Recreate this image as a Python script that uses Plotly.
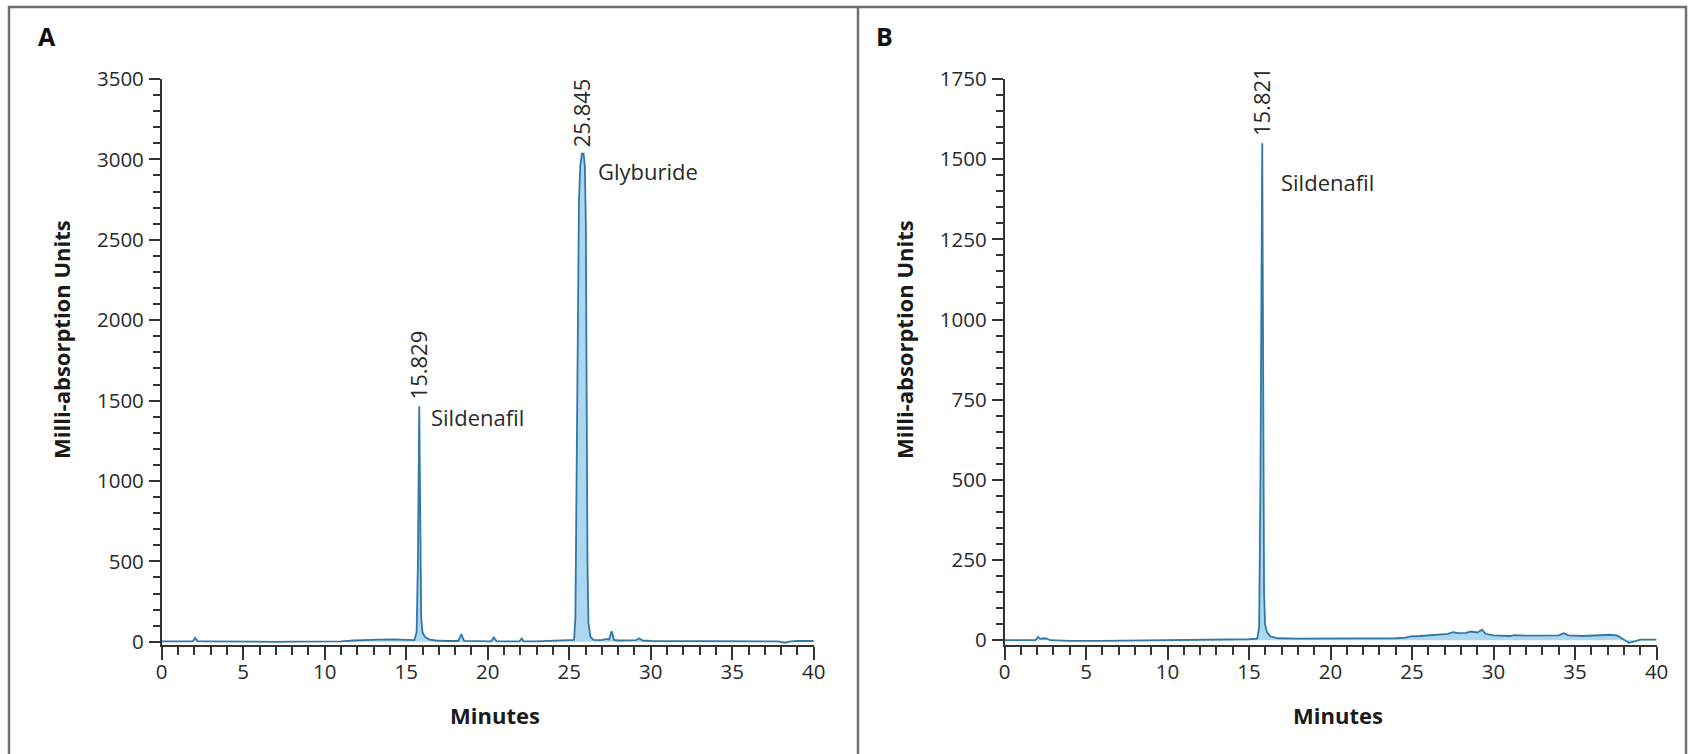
import plotly.graph_objects as go

# ---------------- Data ----------------
# Panel A: sample with sildenafil and glyburide
time_a = [0.0, 0.6, 1.2, 1.9, 2.05, 2.2, 2.6, 3.2, 4.0, 5.0, 6.0, 7.0, 8.0, 9.0,
          10.0, 11.0, 11.8, 12.5, 13.3, 14.2, 15.0, 15.5, 15.64, 15.72, 15.8,
          15.86, 15.92, 16.0, 16.15, 16.4, 16.8, 17.5, 18.2, 18.38, 18.55, 19.3,
          20.2, 20.38, 20.55, 21.3, 21.95, 22.08, 22.22, 23.0, 24.0, 24.8, 25.3,
          25.38, 25.45, 25.52, 25.6, 25.68, 25.78, 25.88, 25.96, 26.02, 26.07,
          26.12, 26.18, 26.3, 26.5, 27.0, 27.3, 27.45, 27.6, 27.75, 28.0, 28.6,
          29.1, 29.3, 29.5, 30.0, 31.0, 32.0, 33.0, 34.0, 35.0, 36.0, 37.0, 37.8,
          38.2, 38.6, 39.0, 40.0]
mau_a = [2, 3, 2, 2, 25, 4, 3, 2, 1, 1, 0, 0, 1, 1,
         2, 3, 8, 12, 14, 15, 12, 10, 60, 500, 1465,
         700, 150, 60, 30, 15, 8, 5, 5, 48, 6, 4,
         3, 27, 3, 3, 2, 20, 3, 3, 5, 8, 12,
         150, 900, 2100, 2750, 2960, 3035, 3035, 2960, 2600, 1500,
         500, 120, 30, 12, 10, 18, 14, 65, 12, 8, 8,
         10, 22, 8, 5, 5, 5, 4, 4, 3, 3, 2, 2,
         -6, 2, 5, 5]

# Panel B: sample with sildenafil only
time_b = [0.0, 1.0, 1.9, 2.05, 2.2, 2.4, 2.6, 2.8, 4.0, 6.0, 8.0, 10.0, 12.0, 14.0,
          15.0, 15.5, 15.62, 15.7, 15.81, 15.87, 15.92, 15.98, 16.1, 16.3, 16.8,
          18.0, 20.0, 22.0, 24.0, 24.6, 24.9, 25.5, 26.5, 27.2, 27.5, 27.8, 28.3,
          28.6, 29.0, 29.3, 29.5, 30.0, 31.0, 31.3, 32.0, 33.0, 34.0, 34.3, 34.6,
          35.5, 36.5, 37.2, 37.6, 38.0, 38.3, 38.7, 39.0, 40.0]
mau_b = [0, 0, 0, 10, 4, 6, 5, 0, -2, -2, -1, 0, 0, 2,
         3, 5, 40, 500, 1550, 800, 150, 50, 25, 12, 6,
         5, 5, 6, 6, 8, 12, 13, 16, 20, 25, 22, 23,
         27, 24, 33, 20, 15, 13, 16, 14, 14, 15, 22, 15,
         13, 14, 17, 14, 0, -8, -3, 2, 2]

x_ticks = [0, 5, 10, 15, 20, 25, 30, 35, 40]
y_ticks_a = [0, 500, 1000, 1500, 2000, 2500, 3000, 3500]
y_ticks_b = [0, 250, 500, 750, 1000, 1250, 1500, 1750]

# peak labels: (retention time, peak height, retention label, compound, compound label height)
peaks_a = [(15.829, 1465, "15.829", "Sildenafil", 1400),
           (25.845, 3035, "25.845", "Glyburide", 2925)]
peaks_b = [(15.821, 1550, "15.821", "Sildenafil", 1430)]

# ---------------- Styling ----------------
FONT = "Open Sans, Noto Sans, sans-serif"
AX = "#333333"
LINE = "#2f78a8"
FILL = "rgba(160,208,236,0.85)"
TXT = "#2a2a2a"

fig = go.Figure()
fig.add_trace(go.Scatter(x=time_a, y=mau_a, mode="lines", xaxis="x", yaxis="y",
                         line=dict(color=LINE, width=1.8), fill="tozeroy",
                         fillcolor=FILL, hoverinfo="skip"))
fig.add_trace(go.Scatter(x=time_b, y=mau_b, mode="lines", xaxis="x2", yaxis="y2",
                         line=dict(color=LINE, width=1.8), fill="tozeroy",
                         fillcolor=FILL, hoverinfo="skip"))

W, H = 1690, 754
ydom = [1 - 645 / H, 1 - 79 / H]


def xaxis(dom, anchor):
    return dict(domain=dom, anchor=anchor, range=[0, 40], tickmode="array",
                tickvals=x_ticks, ticks="outside", ticklen=13, tickwidth=1.5,
                tickcolor=AX, showline=True, linewidth=1.5, linecolor=AX,
                showgrid=False, zeroline=False, ticklabelstandoff=-5, automargin=False,
                tickfont=dict(family=FONT, size=20.5, color=TXT),
                minor=dict(tickmode="linear", tick0=0, dtick=1, ticks="outside",
                           ticklen=8, tickwidth=1.5, tickcolor=AX, showgrid=False),
                fixedrange=True)


def yaxis(anchor, rng, ticks, minor_step):
    return dict(domain=ydom, anchor=anchor, range=rng, tickmode="array",
                tickvals=ticks, ticks="outside", ticklen=11, tickwidth=1.5,
                tickcolor=AX, showline=True, linewidth=1.5, linecolor=AX,
                showgrid=False, zeroline=False, ticklabelstandoff=1, automargin=False,
                tickfont=dict(family=FONT, size=20.5, color=TXT),
                minor=dict(tickmode="linear", tick0=0, dtick=minor_step,
                           ticks="outside", ticklen=7, tickwidth=1.5,
                           tickcolor=AX, showgrid=False),
                fixedrange=True)


fig.update_layout(
    template="none",
    width=W, height=H, margin=dict(l=0, r=0, t=0, b=0, pad=0), autosize=False,
    paper_bgcolor="white", plot_bgcolor="white", showlegend=False,
    font=dict(family=FONT, color=TXT),
    xaxis=xaxis([161.7 / W, 813.7 / W], "y"),
    yaxis=yaxis("x", [-20, 3500], y_ticks_a, 100),
    xaxis2=xaxis([1004.5 / W, 1656.6 / W], "y2"),
    yaxis2=yaxis("x2", [-15, 1750], y_ticks_b, 50),
)

ann = []
name_shift = {("x", "Sildenafil"): 9, ("x", "Glyburide"): 13, ("x2", "Sildenafil"): 17}
for xr, yr, peaks in (("x", "y", peaks_a), ("x2", "y2", peaks_b)):
    for t, h, rt_label, name, name_y in peaks:
        ann.append(dict(x=t, y=h, xref=xr, yref=yr, text=rt_label, textangle=-90,
                        showarrow=False, xanchor="center", yanchor="bottom",
                        yshift=5, xshift=-2,
                        font=dict(family=FONT, size=22, color=TXT)))
        ann.append(dict(x=t, y=name_y, xref=xr, yref=yr, text=name,
                        showarrow=False, xanchor="left", yanchor="middle",
                        xshift=name_shift[(xr, name)],
                        font=dict(family=FONT, size=22, color=TXT)))

# panel letters
for txt, xp in (("A", 47), ("B", 884)):
    ann.append(dict(x=xp / W, y=1 - 36 / H, xref="paper", yref="paper", text=f"<b>{txt}</b>",
                    showarrow=False, xanchor="center", yanchor="middle",
                    font=dict(family=FONT, size=25, color="#111111")))
# axis titles
for xc in (495, 1338):
    ann.append(dict(x=xc / W, y=1 - 715 / H, xref="paper", yref="paper",
                    text="<b>Minutes</b>", showarrow=False, xanchor="center",
                    yanchor="middle", font=dict(family=FONT, size=22, color="#1a1a1a")))
for xc in (61, 904):
    ann.append(dict(x=xc / W, y=1 - 340 / H, xref="paper", yref="paper",
                    text="<b>Milli-absorption Units</b>", textangle=-90,
                    showarrow=False, xanchor="center", yanchor="middle",
                    font=dict(family=FONT, size=22, color="#1a1a1a")))
fig.update_layout(annotations=ann)

# frame (kept inside the paper so nothing can push the margins)
BORDER = "#6f6f6f"
fig.add_shape(type="rect", xref="paper", yref="paper", x0=9 / W, x1=1686 / W,
              y0=-0.05, y1=1 - 7 / H, line=dict(color=BORDER, width=2.5), layer="below")
fig.add_shape(type="line", xref="paper", yref="paper", x0=858 / W, x1=858 / W,
              y0=0, y1=1 - 7 / H, line=dict(color=BORDER, width=2.5), layer="below")

fig.write_html("out.html", config={"displayModeBar": False},
               post_script="document.body.style.margin='0';document.body.style.overflow='hidden';")
